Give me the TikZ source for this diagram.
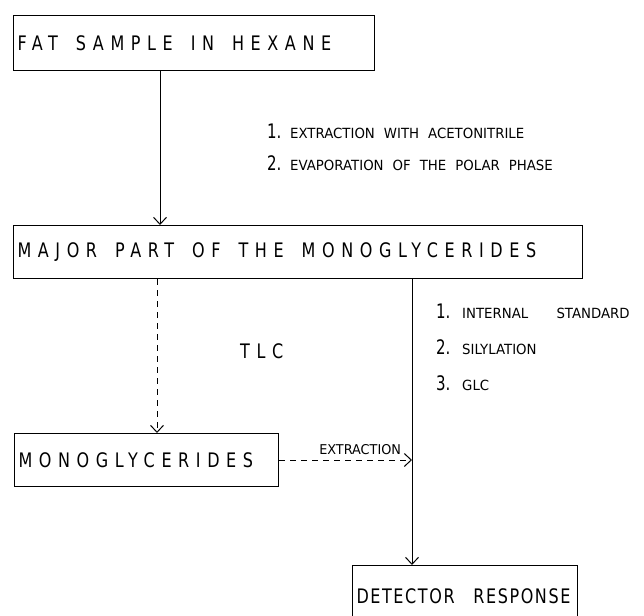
\documentclass[tikz,border=0pt]{standalone}
\usepackage{fontspec}
\setmainfont{DejaVu Sans}
\newfontfamily\boxfont[FakeStretch=0.8,LetterSpace=33]{DejaVu Sans}
\newfontfamily\detfont[FakeStretch=0.8,LetterSpace=8]{DejaVu Sans}
\newfontfamily\notefont[FakeStretch=0.95]{DejaVu Sans}
\newfontfamily\numfont[FakeStretch=0.75]{DejaVu Sans}
\newcommand\ws{\hspace{18pt}}
\newcommand\nws{\hspace{9pt}}
\usetikzlibrary{positioning,arrows.meta}

\begin{document}
\begin{tikzpicture}[
  x=1pt, y=-1pt,
  box/.style={draw, line width=1pt, anchor=north west, inner xsep=4pt, align=left,
    font=\boxfont\fontsize{20}{20}\selectfont},
  num/.style={anchor=base west, inner sep=0pt, font=\numfont\fontsize{20}{20}\selectfont},
  note/.style={anchor=base west, inner sep=0pt, font=\notefont\fontsize{14}{14}\selectfont},
  arr/.style={-{Straight Barb[length=7pt,width=13pt]}, line width=1pt},
  dsh/.style={arr, dash pattern=on 6pt off 5pt}
]
\useasboundingbox (0,0) rectangle (644,615);

% boxes
\node[box, text width=353pt, minimum height=55pt] (fat) at (13,15) {FAT\ws SAMPLE\ws IN\ws HEXANE};
\node[box, text width=561pt, minimum height=53pt] (major) at (13,225) {MAJOR\ws PART\ws OF\ws THE\ws MONOGLYCERIDES};
\node[box, text width=256pt, minimum height=53pt] (mono) at (14,433) {MONOGLYCERIDES};
\node[box, text width=217pt, minimum height=62pt, font=\detfont\fontsize{20}{20}\selectfont]
  (det) at (352,565) {DETECTOR\hspace{12pt} RESPONSE};

% first step
\node[num] (a1) at (267,138) {1.};
\node[note] (a1t) at (290,138) {EXTRACTION\nws WITH\nws ACETONITRILE};
\node[num] (a2) at (267,170) {2.};
\node[note] (a2t) at (290,170) {EVAPORATION\nws OF\nws THE\nws POLAR\nws PHASE};

% second step
\node[num] (b1) at (436,318) {1.};
\node[note] (b1t) at (462,318) {INTERNAL\hspace{24pt} STANDARD};
\node[num] (b2) at (436,354) {2.};
\node[note] (b2t) at (462,354) {SILYLATION};
\node[num] (b3) at (436,390) {3.};
\node[note] (b3t) at (462,390) {GLC};

\node[anchor=base west, inner sep=0pt, font=\boxfont\fontsize{20}{20}\selectfont] (tlc) at (240,358) {TLC};

% connectors
\coordinate (tap) at ([xshift=60pt]det.north west);
\draw[arr] ([xshift=147pt]fat.south west) -- ([xshift=147pt]major.north west);
\draw[dsh] ([xshift=144pt]major.south west) -- ([xshift=143pt]mono.north west);
\draw[arr] (major.south -| tap) -- (tap);
\draw[dsh] (mono.east) -- (mono.east -| tap)
  node[pos=0.61, above=1pt, font=\notefont\fontsize{13.5}{13.5}\selectfont] (ext) {EXTRACTION};
\end{tikzpicture}
\end{document}
